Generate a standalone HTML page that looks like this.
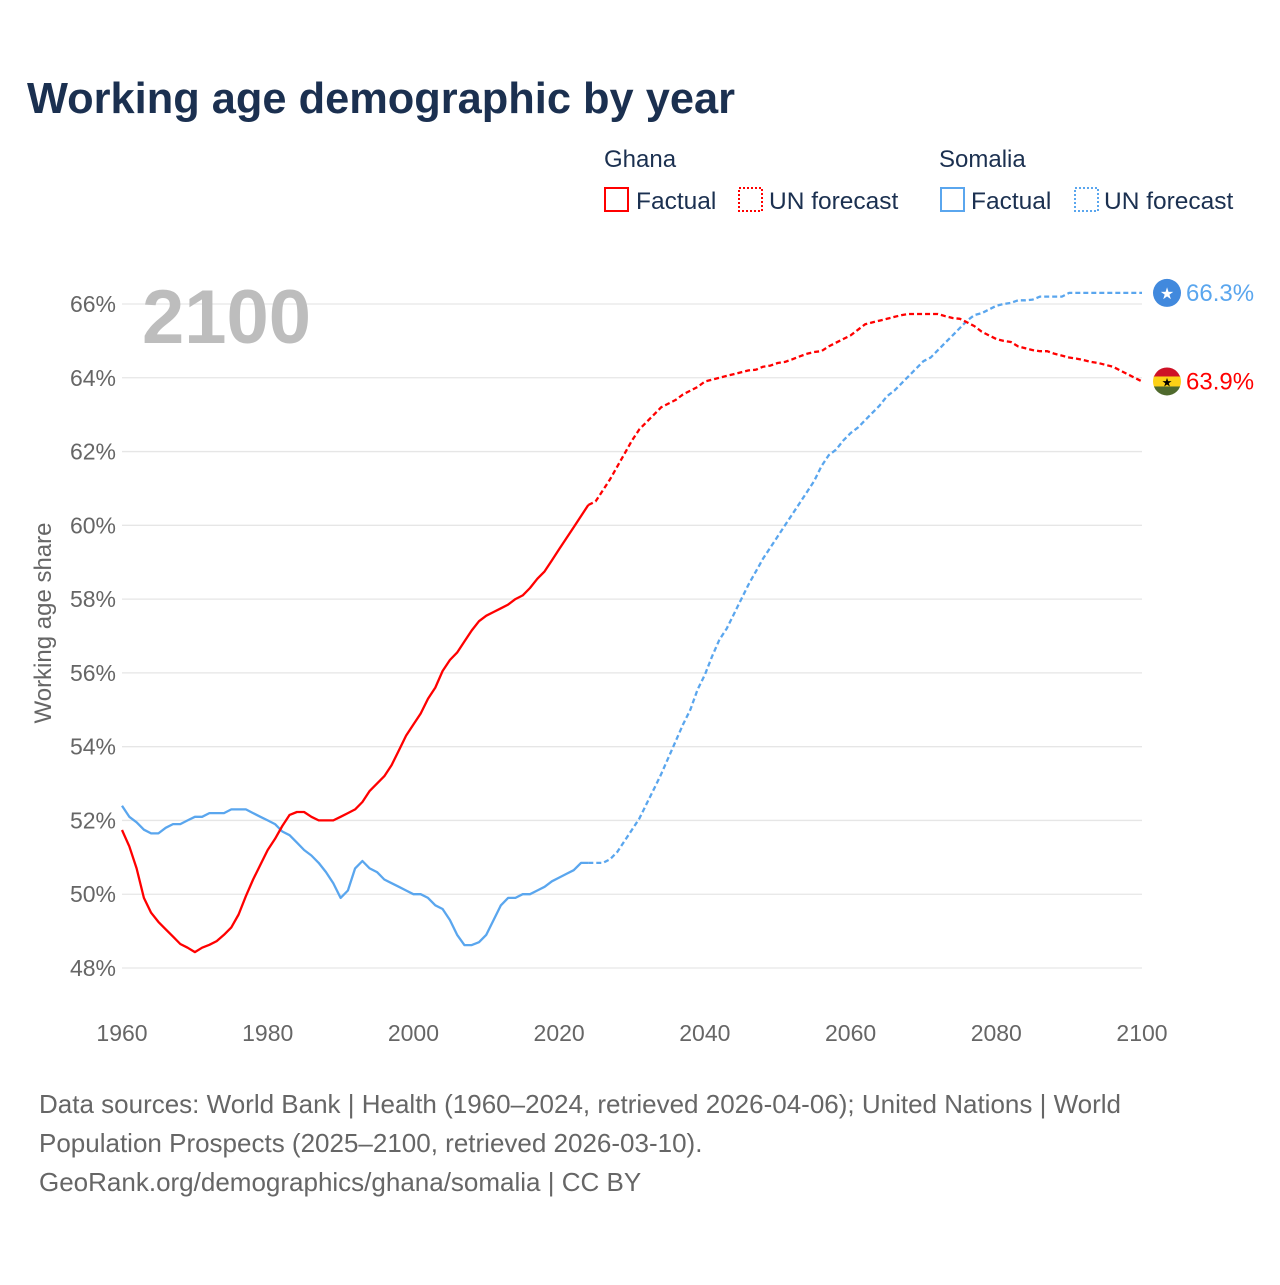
<!DOCTYPE html>
<html><head><meta charset="utf-8"><style>
body{margin:0;background:#fff;font-family:"Liberation Sans",sans-serif;}
svg text{font-family:"Liberation Sans",sans-serif;}
</style></head><body>
<svg id="c" width="1280" height="1280" xmlns="http://www.w3.org/2000/svg">
<rect width="1280" height="1280" fill="#fff"/>
<text x="27" y="113" font-size="43.5" font-weight="bold" fill="#1b3050" textLength="708" lengthAdjust="spacingAndGlyphs">Working age demographic by year</text>
<g>
<text x="604" y="167" font-size="24" fill="#1b3050">Ghana</text>
<rect x="605" y="188" width="23" height="23" fill="none" stroke="#f00" stroke-width="2"/>
<text x="636" y="209" font-size="24.5" fill="#1b3050">Factual</text>
<rect x="739" y="188" width="23" height="23" fill="none" stroke="#f00" stroke-width="2" stroke-dasharray="2,2"/>
<text x="769" y="209" font-size="24.5" fill="#1b3050">UN forecast</text>
<text x="939" y="167" font-size="24" fill="#1b3050">Somalia</text>
<rect x="941" y="188" width="23" height="23" fill="none" stroke="#5aa6ee" stroke-width="2"/>
<text x="971" y="209" font-size="24.5" fill="#1b3050">Factual</text>
<rect x="1075" y="188" width="23" height="23" fill="none" stroke="#5aa6ee" stroke-width="2" stroke-dasharray="2,2"/>
<text x="1104" y="209" font-size="24.5" fill="#1b3050">UN forecast</text>
</g>
<g id="grid"></g>
<text x="142" y="343" font-size="76" font-weight="bold" fill="#bdbdbd">2100</text>
<text transform="translate(51,623) rotate(-90)" text-anchor="middle" font-size="24" fill="#666">Working age share</text>
<g id="series"></g>
<g font-size="26" fill="#666">
<text x="39" y="1113">Data sources: World Bank | Health (1960–2024, retrieved 2026-04-06); United Nations | World</text>
<text x="39" y="1152">Population Prospects (2025–2100, retrieved 2026-03-10).</text>
<text x="39" y="1191">GeoRank.org/demographics/ghana/somalia | CC BY</text>
</g>
</svg>
<script>
const yTicks=[48,50,52,54,56,58,60,62,64,66];
const xTicks=[1960,1980,2000,2020,2040,2060,2080,2100];
const ghanaFactual=[51.74,51.3,50.7,49.9,49.5,49.25,49.05,48.85,48.65,48.55,48.43,48.55,48.63,48.73,48.9,49.1,49.45,49.95,50.4,50.8,51.2,51.5,51.85,52.15,52.23,52.23,52.1,52.0,52.0,52.0,52.1,52.2,52.3,52.5,52.8,53.0,53.2,53.5,53.9,54.3,54.6,54.9,55.3,55.6,56.05,56.35,56.55,56.85,57.15,57.4,57.55,57.65,57.75,57.85,58.0,58.1,58.3,58.55,58.75,59.05,59.35,59.65,59.95,60.25,60.55];
const ghanaForecast=[60.55,60.65,60.95,61.25,61.6,61.95,62.3,62.6,62.8,63.0,63.2,63.3,63.4,63.55,63.65,63.75,63.9,63.95,64.0,64.05,64.1,64.15,64.2,64.22,64.3,64.33,64.4,64.43,64.5,64.58,64.65,64.7,64.72,64.85,64.95,65.05,65.15,65.3,65.45,65.5,65.55,65.6,65.65,65.7,65.73,65.73,65.73,65.73,65.73,65.67,65.62,65.6,65.5,65.4,65.25,65.15,65.05,65.0,64.97,64.85,64.8,64.75,64.72,64.72,64.65,64.6,64.55,64.52,64.48,64.43,64.4,64.35,64.3,64.2,64.1,64.0,63.9];
const somaliaFactual=[52.4,52.1,51.95,51.75,51.65,51.65,51.8,51.9,51.9,52.0,52.1,52.1,52.2,52.2,52.2,52.3,52.3,52.3,52.2,52.1,52.0,51.9,51.7,51.6,51.4,51.2,51.05,50.85,50.6,50.3,49.9,50.1,50.7,50.9,50.7,50.6,50.4,50.3,50.2,50.1,50.0,50.0,49.9,49.7,49.6,49.3,48.9,48.62,48.62,48.7,48.9,49.3,49.7,49.9,49.9,50.0,50.0,50.1,50.2,50.35,50.45,50.55,50.65,50.85,50.85];
const somaliaForecast=[50.85,50.85,50.85,50.95,51.15,51.45,51.75,52.05,52.45,52.85,53.25,53.7,54.15,54.6,55.0,55.55,55.95,56.45,56.9,57.2,57.6,58.0,58.4,58.75,59.1,59.4,59.7,60.0,60.3,60.6,60.9,61.2,61.6,61.9,62.05,62.3,62.5,62.65,62.85,63.05,63.25,63.5,63.65,63.85,64.05,64.25,64.45,64.55,64.75,64.95,65.15,65.35,65.55,65.7,65.75,65.85,65.95,66.0,66.03,66.1,66.1,66.12,66.2,66.2,66.2,66.2,66.3,66.3,66.3,66.3,66.3,66.3,66.3,66.3,66.3,66.3,66.3];
const NS="http://www.w3.org/2000/svg";
const X=yr=>122+(yr-1960)*(1020/140);
const Y=v=>304+(66-v)*(664/18);
function mk(t,a,p){const e=document.createElementNS(NS,t);for(const k in a)e.setAttribute(k,a[k]);p.appendChild(e);return e;}
const grid=document.getElementById('grid');
yTicks.forEach(v=>{
 const l=mk('line',{x1:122,x2:1142,y1:Y(v),y2:Y(v),stroke:'#e6e6e6','stroke-width':1.3},grid);
 
 
 const t=mk('text',{x:116,y:Y(v)+8,'text-anchor':'end','font-size':23,fill:'#666'},grid);
 t.textContent=v+'%';
 
 
});
xTicks.forEach(yr=>{
 const t=mk('text',{x:X(yr),y:1041,'text-anchor':'middle','font-size':23,fill:'#666'},grid);
 t.textContent=yr;
 
 
});
const S=document.getElementById('series');
function line(arr,start,color,dash,name){
 const d=arr.map((v,i)=>(i?'L':'M')+X(start+i).toFixed(1)+','+Y(v).toFixed(1)).join('');
 const p=mk('path',{d:d,fill:'none',stroke:color,'stroke-width':2.3,'stroke-dasharray':dash,'stroke-linejoin':'round'},S);
 
 
}
line(somaliaFactual,1960,'#5aa6ee','none','somalia-factual-line');
line(somaliaForecast,2024,'#5aa6ee','5,3','somalia-forecast-line');
line(ghanaFactual,1960,'#f00','none','ghana-factual-line');
line(ghanaForecast,2024,'#f00','5,3','ghana-forecast-line');
const sEnd=somaliaForecast[somaliaForecast.length-1], gEnd=ghanaForecast[ghanaForecast.length-1];
const sm=mk('g',{},S);


mk('circle',{cx:1167,cy:Y(sEnd),r:14,fill:'#4189dd'},sm);
const st=mk('text',{x:1167,y:Y(sEnd)+6,'text-anchor':'middle','font-size':16,fill:'#fff'},sm);st.textContent='★';
const sl=mk('text',{x:1186,y:Y(sEnd)+8,'font-size':24,fill:'#5aa6ee'},S);
sl.textContent=sEnd.toFixed(1)+'%';


const gm=mk('g',{},S);


const gy=Y(gEnd);
mk('clipPath',{id:'gc'},gm);
mk('circle',{cx:1167,cy:gy,r:14},document.getElementById('gc'));
const gg=mk('g',{'clip-path':'url(#gc)'},gm);
mk('rect',{x:1153,y:gy-14,width:28,height:10,fill:'#ce1126'},gg);
mk('rect',{x:1153,y:gy-5,width:28,height:10,fill:'#fcd116'},gg);
mk('rect',{x:1153,y:gy+5,width:28,height:10,fill:'#4f6a2d'},gg);
const gt=mk('text',{x:1167,y:gy+5,'text-anchor':'middle','font-size':12,fill:'#000'},gm);gt.textContent='★';
const gl=mk('text',{x:1186,y:gy+8,'font-size':24,fill:'#f00'},S);
gl.textContent=gEnd.toFixed(1)+'%';


</script>
</body></html>
